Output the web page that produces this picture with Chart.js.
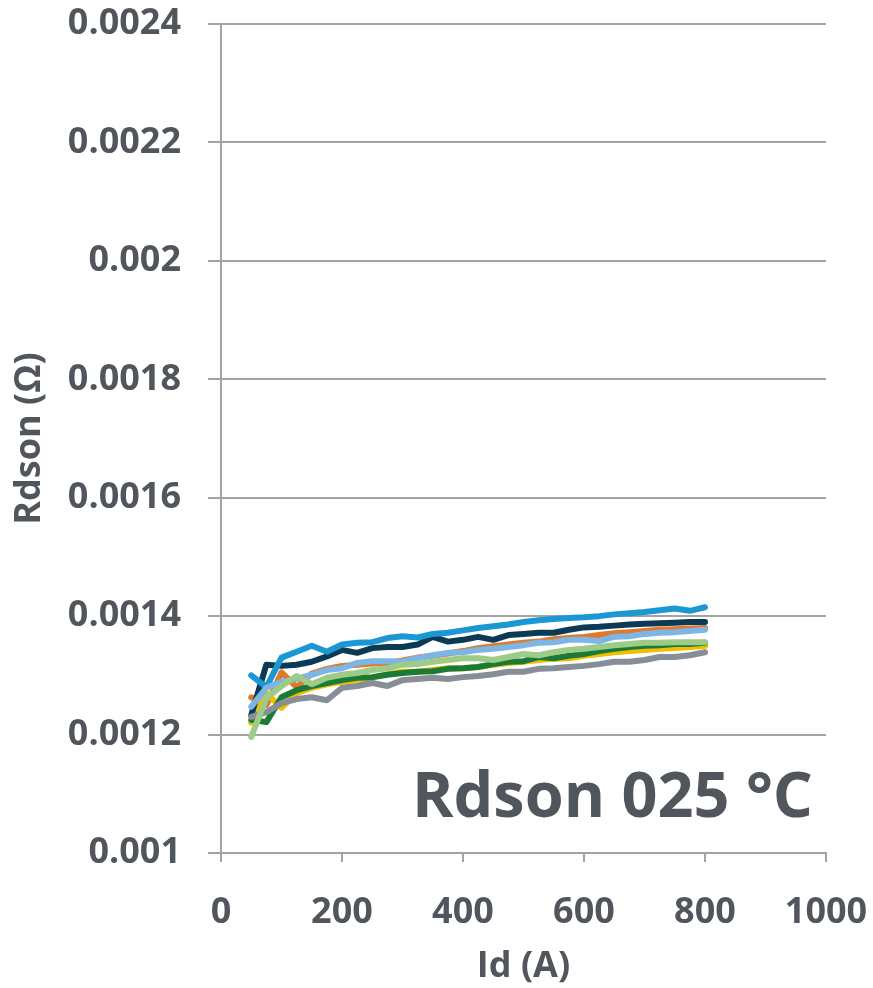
<!DOCTYPE html>
<html>
<head>
<meta charset="utf-8">
<script src="https://cdn.jsdelivr.net/npm/chart.js@4/dist/chart.umd.min.js"></script>
<style>
html,body{margin:0;padding:0;background:#fff;}
#wrap{width:873px;height:988px;}
</style>
</head>
<body>
<div id="wrap"><canvas id="c" width="873" height="988"></canvas></div>
<script>
const idValues = [50,75,100,125,150,175,200,225,250,275,300,325,350,375,400,425,450,475,500,525,550,575,600,625,650,675,700,725,750,775,800];

const cyanSeries = [0.001300,0.001280,0.001330,0.001340,0.001350,0.001340,0.001352,0.001355,0.001356,0.001363,0.001366,0.001364,0.001370,0.001372,0.001376,0.001380,0.001383,0.001386,0.001390,0.001393,0.001395,0.001397,0.001398,0.001400,0.001403,0.001405,0.001407,0.001410,0.001413,0.001409,0.001415];
const navySeries = [0.001233,0.001318,0.001316,0.001318,0.001323,0.001332,0.001343,0.001338,0.001346,0.001348,0.001348,0.001352,0.001365,0.001357,0.001360,0.001365,0.001360,0.001368,0.001370,0.001372,0.001372,0.001377,0.001381,0.001382,0.001384,0.001386,0.001387,0.001388,0.001389,0.001390,0.001390];
const orangeSeries = [0.001263,0.001250,0.001305,0.001280,0.001303,0.001311,0.001316,0.001318,0.001320,0.001321,0.001325,0.001330,0.001333,0.001337,0.001341,0.001346,0.001349,0.001352,0.001355,0.001357,0.001361,0.001363,0.001365,0.001368,0.001371,0.001373,0.001375,0.001377,0.001378,0.001379,0.001380];
const lightBlueSeries = [0.001247,0.001279,0.001289,0.001294,0.001301,0.001309,0.001312,0.001321,0.001324,0.001324,0.001323,0.001329,0.001334,0.001338,0.001339,0.001343,0.001345,0.001348,0.001351,0.001355,0.001356,0.001360,0.001360,0.001358,0.001365,0.001366,0.001370,0.001372,0.001373,0.001375,0.001377];
const yellowSeries = [0.001220,0.001270,0.001245,0.001270,0.001279,0.001285,0.001289,0.001292,0.001296,0.001302,0.001306,0.001306,0.001309,0.001312,0.001312,0.001314,0.001318,0.001321,0.001323,0.001326,0.001328,0.001329,0.001333,0.001336,0.001339,0.001341,0.001343,0.001345,0.001346,0.001348,0.001350];
const darkGreenSeries = [0.001225,0.001221,0.001263,0.001275,0.001282,0.001287,0.001292,0.001296,0.001297,0.001301,0.001304,0.001306,0.001307,0.001311,0.001312,0.001314,0.001319,0.001323,0.001324,0.001331,0.001329,0.001333,0.001336,0.001341,0.001345,0.001348,0.001350,0.001351,0.001353,0.001353,0.001355];
const lightGreenSeries = [0.001196,0.001262,0.001282,0.001299,0.001285,0.001296,0.001301,0.001304,0.001309,0.001312,0.001318,0.001319,0.001323,0.001326,0.001329,0.001329,0.001326,0.001331,0.001336,0.001334,0.001339,0.001343,0.001345,0.001348,0.001351,0.001353,0.001355,0.001355,0.001356,0.001356,0.001356];
const graySeries = [0.001230,0.001238,0.001253,0.001260,0.001263,0.001258,0.001279,0.001282,0.001287,0.001282,0.001292,0.001294,0.001296,0.001294,0.001297,0.001299,0.001302,0.001306,0.001306,0.001311,0.001312,0.001314,0.001316,0.001319,0.001323,0.001323,0.001326,0.001331,0.001331,0.001334,0.001339];

const yTickLabels = ['0.001','0.0012','0.0014','0.0016','0.0018','0.002','0.0022','0.0024'];
const xTickLabels = ['0','200','400','600','800','1000'];
const chartTitle = 'Rdson 025 °C';
const xTitle = 'Id (A)';
const yTitle = 'Rdson (Ω)';

const textColor = '#51565D';
const gridColor = '#A3A3A3';
const FONT = '"Open Sans", "DejaVu Sans", sans-serif';

function mk(data, color) {
  return {
    data: idValues.map((x, i) => ({x: x, y: data[i]})),
    borderColor: color,
    backgroundColor: color,
    borderWidth: 6,
    pointRadius: 0,
    tension: 0,
    fill: false,
    borderCapStyle: 'round',
    borderJoinStyle: 'round'
  };
}

const datasets = [
  mk(lightGreenSeries, '#9DCB88'),
  mk(lightBlueSeries, '#7DB6E6'),
  mk(graySeries, '#878E97'),
  mk(cyanSeries, '#1B98D4'),
  mk(navySeries, '#0C3954'),
  mk(darkGreenSeries, '#1B7A36'),
  mk(yellowSeries, '#EFBF00'),
  mk(orangeSeries, '#E07A2A')
];

const titlePlugin = {
  id: 'innerTitle',
  afterDraw(chart) {
    const ctx = chart.ctx;
    ctx.save();
    ctx.font = 'bold 63px ' + FONT;
    ctx.fillStyle = textColor;
    ctx.textAlign = 'right';
    ctx.textBaseline = 'alphabetic';
    ctx.fillText(chartTitle, 813, 817);
    ctx.restore();
  }
};

new Chart(document.getElementById('c'), {
  type: 'line',
  data: { datasets },
  options: {
    responsive: false,
    animation: false,
    devicePixelRatio: 1,
    layout: { padding: { top: 24, right: 47, left: 0, bottom: 0 } },
    plugins: { legend: { display: false }, tooltip: { enabled: false } },
    scales: {
      x: {
        type: 'linear',
        min: 0, max: 1000,
        afterFit(s) { s.height = 135; s.paddingLeft = 0; s.paddingRight = 0; },
        ticks: {
          stepSize: 200,
          padding: 29,
          color: textColor,
          font: { family: FONT, size: 36, weight: 'bold' },
          callback: (v) => xTickLabels[Math.round(v / 200)],
          maxRotation: 0
        },
        grid: { drawOnChartArea: false, drawTicks: true, tickLength: 9, color: gridColor, lineWidth: 2 },
        border: { display: true, color: gridColor, width: 2 },
        title: { display: true, text: xTitle, color: textColor, font: { family: FONT, size: 36, weight: 'bold' }, padding: { top: 0, bottom: 0 } }
      },
      y: {
        type: 'linear',
        min: 0.001, max: 0.0024,
        afterFit(s) { s.width = 221; s.paddingTop = 0; s.paddingBottom = 0; },
        ticks: {
          stepSize: 0.0002,
          padding: 27,
          color: textColor,
          font: { family: FONT, size: 36, weight: 'bold' },
          callback: (v) => yTickLabels[Math.round((v - 0.001) / 0.0002)]
        },
        grid: { drawOnChartArea: true, drawTicks: true, tickLength: 13, color: gridColor, lineWidth: 2 },
        border: { display: true, color: gridColor, width: 2 },
        title: { display: true, text: yTitle, color: textColor, font: { family: FONT, size: 36, weight: 'bold' }, padding: { top: 8, bottom: 0 } }
      }
    }
  },
  plugins: [titlePlugin]
});
</script>
</body>
</html>
